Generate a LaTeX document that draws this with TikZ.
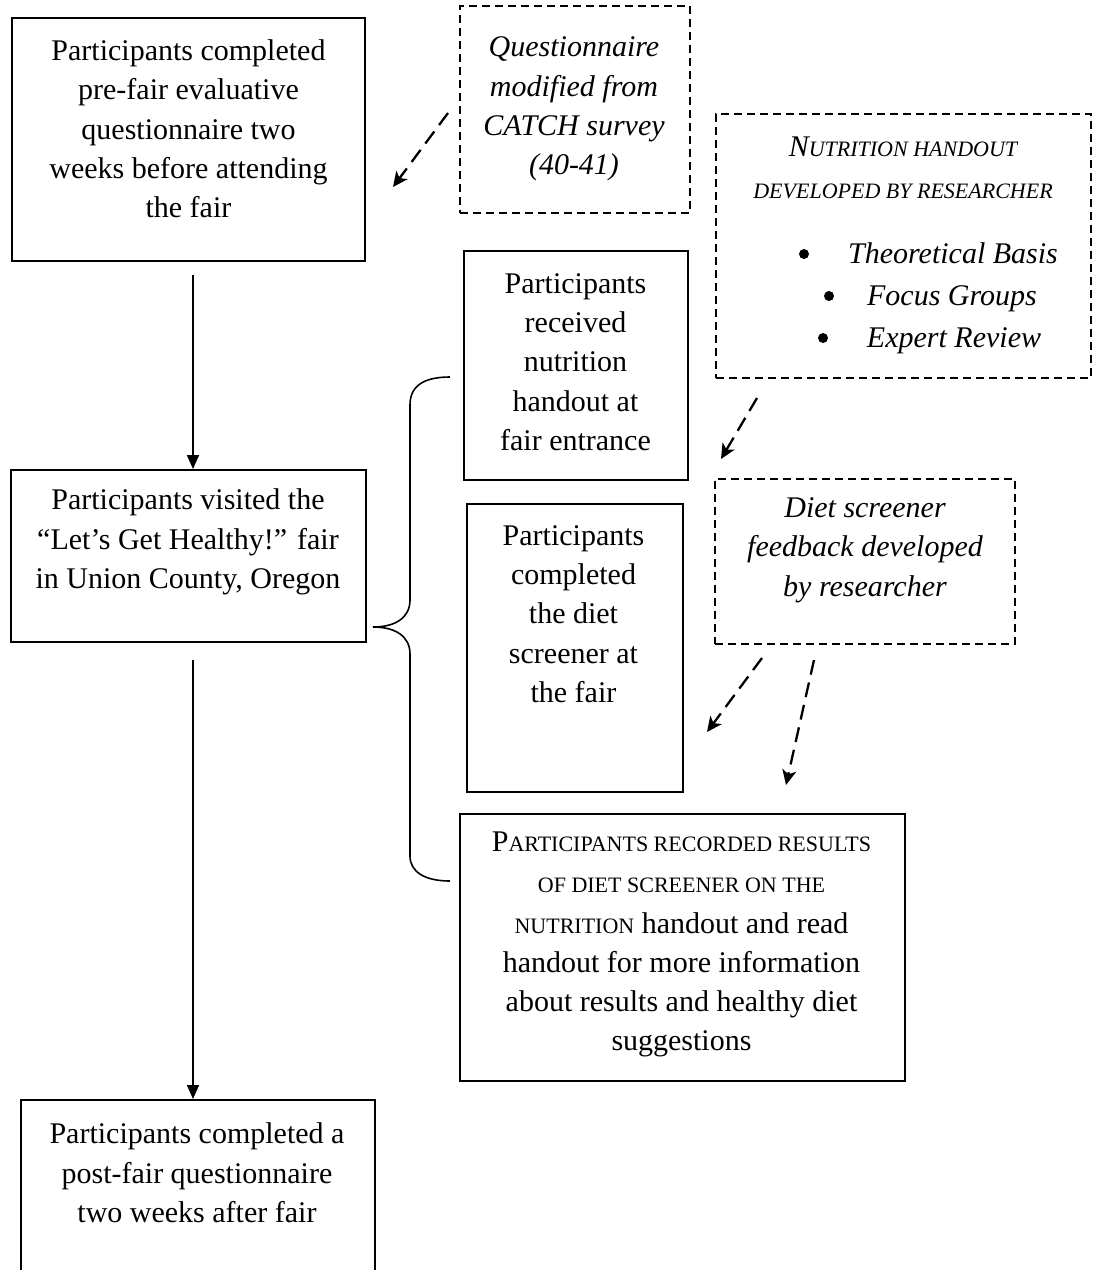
\documentclass[tikz,border=0pt]{standalone}
\usepackage{fontspec}
\setmainfont{Liberation Serif}
\usetikzlibrary{arrows.meta}
\newcommand{\fsc}[1]{{\fontsize{22}{39.3}\selectfont #1}}
\newcommand{\fbig}[1]{{\fontsize{30}{39.3}\selectfont #1}}
\begin{document}
\begin{tikzpicture}[x=1pt,y=-1pt,
  boxs/.style={draw, line width=1.8pt, anchor=north west, inner sep=0pt},
  dbox/.style={draw, line width=1.8pt, dash pattern=on 8pt off 5pt, anchor=north west, inner sep=0pt},
  txt/.style={align=center, font=\fontsize{30}{39.3}\selectfont, inner sep=0pt},
  itxt/.style={align=center, font=\fontsize{30}{39.3}\selectfont\itshape, inner sep=0pt},
  flow/.style={line width=1.8pt, -{Triangle[length=14pt,width=12pt]}},
  dflow/.style={line width=2.3pt, dash pattern=on 15pt off 8pt, -{Stealth[length=15pt,width=14pt,inset=4pt]}}]
\useasboundingbox (0,0) rectangle (1099,1270);
\clip (0,0) rectangle (1099,1270);
\fill[white] (0,0) rectangle (1099,1270);

% solid boxes
\node[boxs, minimum width=353pt, minimum height=243pt] (b1) at (11,17) {};
\node[boxs, minimum width=355pt, minimum height=172pt] (b2) at (10,469) {};
\node[boxs, minimum width=354pt, minimum height=200pt] (b3) at (20,1099) {};
\node[boxs, minimum width=224pt, minimum height=229pt] (br) at (463,250) {};
\node[boxs, minimum width=216pt, minimum height=288pt] (bd) at (466,503) {};
\node[boxs, minimum width=445pt, minimum height=267pt] (bc) at (459,813) {};

% dashed boxes
\node[dbox, minimum width=230pt, minimum height=207pt] (dq) at (459,5) {};
\node[dbox, minimum width=375pt, minimum height=264pt] (dn) at (715,113) {};
\node[dbox, minimum width=300pt, minimum height=165pt] (dd) at (714,478) {};

% texts
\node[txt] (t1) at (188.5,129) {Participants completed\\pre-fair evaluative\\questionnaire two\\weeks before attending\\the fair};
\node[txt] (t2) at (188,542) {Participants visited the\\``Let's Get Healthy!'' fair\\in Union County, Oregon};
\node[txt] (t3) at (197,1173) {Participants completed a\\post-fair questionnaire\\two weeks after fair};
\node[txt] (tr) at (575.5,362) {Participants\\received\\nutrition\\handout at\\fair entrance};
\node[txt] (td) at (573.5,614) {Participants\\completed\\the diet\\screener at\\the fair};
\node[itxt] (tq) at (574,109) {Questionnaire\\modified from\\CATCH survey\\(40-41)};
\node[itxt] (tdd) at (865,550) {Diet screener\\feedback developed\\by researcher};

% nutrition handout box content
\node[inner sep=0pt, anchor=base, font=\itshape] (nh1) at (903,156) {\fbig{N}\fsc{UTRITION HANDOUT}};
\node[inner sep=0pt, anchor=base, font=\itshape] (nh2) at (903,198) {\fsc{DEVELOPED BY RESEARCHER}};
\node[inner sep=0pt, anchor=base, font=\fontsize{30}{36}\selectfont\itshape] (nb1) at (953,263) {Theoretical Basis};
\node[inner sep=0pt, anchor=base, font=\fontsize{30}{36}\selectfont\itshape] (nb2) at (952,305) {Focus Groups};
\node[inner sep=0pt, anchor=base, font=\fontsize{30}{36}\selectfont\itshape] (nb3) at (954,347) {Expert Review};
\fill (804,254) circle (5pt);
\fill (829,296) circle (5pt);
\fill (823,338) circle (5pt);

% recorded box content
\node[inner sep=0pt, anchor=base] (c1) at (681.5,851) {\fbig{P}\fsc{ARTICIPANTS RECORDED RESULTS}};
\node[inner sep=0pt, anchor=base] (c2) at (681.5,892) {\fsc{OF DIET SCREENER ON THE}};
\node[inner sep=0pt, anchor=base, font=\fontsize{30}{36}\selectfont] (c3) at (681.5,933) {\fsc{NUTRITION} handout and read};
\node[inner sep=0pt, anchor=base, font=\fontsize{30}{36}\selectfont] (c4) at (681.5,972) {handout for more information};
\node[inner sep=0pt, anchor=base, font=\fontsize{30}{36}\selectfont] (c5) at (681.5,1011) {about results and healthy diet};
\node[inner sep=0pt, anchor=base, font=\fontsize{30}{36}\selectfont] (c6) at (681.5,1050) {suggestions};

% solid arrows
\coordinate (a1s) at (193,275);
\coordinate (a2s) at (193,660);
\draw[flow] (a1s) -- (b2.north -| a1s);
\draw[flow] (a2s) -- (b3.north -| a2s);

% dashed arrows
\coordinate (q1) at (448,113);
\coordinate (q2) at (393,187);
\draw[dflow] (q1) -- (q2);
\coordinate (n1) at (757,398);
\coordinate (n2) at (721,459);
\draw[dflow] (n1) -- (n2);
\coordinate (d1) at (762,658);
\coordinate (d2) at (707,732);
\draw[dflow] (d1) -- (d2);
\coordinate (e1) at (814,660);
\coordinate (e2) at (786,785);
\draw[dflow] (e1) -- (e2);

% brace
\coordinate (brtop) at (450,377);
\coordinate (brtip) at (373,627);
\coordinate (brbot) at (450,881);
\draw[line width=1.6pt] (brtop) .. controls (425,377) and (410,385) .. (410,405)
  -- (410,600) .. controls (410,618) and (395,627) .. (brtip)
  .. controls (395,627) and (410,636) .. (410,654)
  -- (410,856) .. controls (410,872) and (425,881) .. (brbot);
\end{tikzpicture}
\end{document}
